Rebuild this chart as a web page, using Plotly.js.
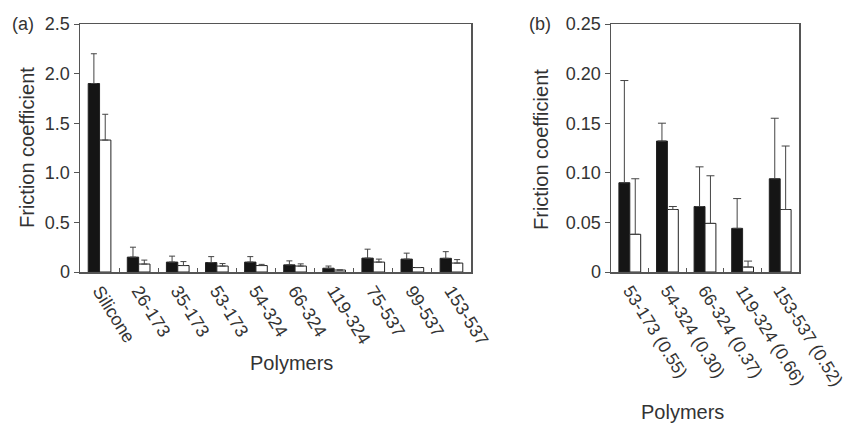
<!DOCTYPE html>
<html>
<head>
<meta charset="utf-8">
<script src="https://cdn.plot.ly/plotly-3.0.1.min.js"></script>
<style>html,body{margin:0;padding:0;background:#fff;}#chart{width:846px;height:424px;}</style>
</head>
<body>
<div id="chart"></div>
<script>
// Panel (a)
const catsA = ['Silicone','26-173','35-173','53-173','54-324','66-324','119-324','75-537','99-537','153-537'];
const darkA = [1.90, 0.15, 0.10, 0.095, 0.10, 0.072, 0.038, 0.14, 0.13, 0.138];
const darkErrA = [0.30, 0.10, 0.06, 0.06, 0.055, 0.04, 0.022, 0.09, 0.06, 0.067];
const lightA = [1.33, 0.08, 0.065, 0.06, 0.065, 0.06, 0.02, 0.10, 0.045, 0.09];
const lightErrA = [0.26, 0.04, 0.04, 0.025, 0.012, 0.022, 0.0, 0.03, 0.0, 0.035];
const yTicksA = [0, 0.5, 1.0, 1.5, 2.0, 2.5];
const yTextA = ['0', '0.5', '1.0', '1.5', '2.0', '2.5'];

// Panel (b)
const catsB = ['53-173 (0.55)','54-324 (0.30)','66-324 (0.37)','119-324 (0.66)','153-537 (0.52)'];
const darkB = [0.090, 0.132, 0.066, 0.044, 0.094];
const darkErrB = [0.103, 0.018, 0.040, 0.030, 0.061];
const lightB = [0.038, 0.063, 0.049, 0.005, 0.063];
const lightErrB = [0.056, 0.003, 0.048, 0.006, 0.064];
const yTicksB = [0, 0.05, 0.10, 0.15, 0.20, 0.25];
const yTextB = ['0', '0.05', '0.10', '0.15', '0.20', '0.25'];

const FONT = 'Liberation Sans, Arial, sans-serif';
const TXT = '#333';
const AX = '#555';
const W = 846, PLOT_TOP = 24, PLOT_BOT = 272;
const px = v => v / W;
const py = v => (PLOT_BOT - v) / (PLOT_BOT - PLOT_TOP);
const zeros = n => new Array(n).fill(0);

function bar(x, y, err, fill, xa, ya, capw) {
  return {
    type: 'bar', x: x, y: y, xaxis: xa, yaxis: ya,
    marker: {color: fill, line: {color: '#222', width: 1}},
    error_y: {type: 'data', symmetric: false, array: err, arrayminus: zeros(err.length),
              color: '#444', thickness: 1, width: capw},
    showlegend: false, hoverinfo: 'none'
  };
}

const data = [
  bar(catsA, darkA, darkErrA, '#151515', 'x', 'y', 3),
  bar(catsA, lightA, lightErrA, '#ffffff', 'x', 'y', 3),
  bar(catsB, darkB, darkErrB, '#151515', 'x2', 'y2', 4),
  bar(catsB, lightB, lightErrB, '#ffffff', 'x2', 'y2', 4)
];

const xCommon = {
  showline: true, mirror: true, linecolor: AX, linewidth: 1.5,
  ticks: 'inside', tickson: 'boundaries', ticklen: 4, tickcolor: AX, tickwidth: 1,
  tickangle: 58, tickfont: {family: FONT, size: 18, color: TXT},
  showgrid: false, zeroline: false, fixedrange: true
};
const yCommon = {
  showline: true, mirror: true, linecolor: AX, linewidth: 1.5,
  ticks: 'outside', ticklen: 5, tickcolor: AX, tickwidth: 1,
  tickfont: {family: FONT, size: 18, color: TXT},
  showgrid: false, zeroline: false, fixedrange: true, domain: [0, 1]
};

const layout = {
  width: 846, height: 424,
  margin: {l: 0, r: 0, t: PLOT_TOP, b: 424 - PLOT_BOT, pad: 0},
  paper_bgcolor: '#fff', plot_bgcolor: '#fff',
  barmode: 'group', bargap: 0.42, bargroupgap: 0,
  font: {family: FONT, color: TXT},
  xaxis: Object.assign({}, xCommon, {domain: [px(80), px(471)], anchor: 'y'}),
  yaxis: Object.assign({}, yCommon, {anchor: 'x', range: [0, 2.5], tickvals: yTicksA, ticktext: yTextA}),
  xaxis2: Object.assign({}, xCommon, {domain: [px(611), px(799)], anchor: 'y2',
    tickfont: {family: FONT, size: 17.5, color: TXT}}),
  yaxis2: Object.assign({}, yCommon, {anchor: 'x2', range: [0, 0.25], tickvals: yTicksB, ticktext: yTextB}),
  annotations: [
    {text: '(a)', xref: 'paper', yref: 'paper', x: px(23), y: py(24), showarrow: false,
     font: {family: FONT, size: 18, color: TXT}, xanchor: 'center', yanchor: 'middle'},
    {text: '(b)', xref: 'paper', yref: 'paper', x: px(540), y: py(24), showarrow: false,
     font: {family: FONT, size: 18, color: TXT}, xanchor: 'center', yanchor: 'middle'},
    {text: 'Friction coefficient', xref: 'paper', yref: 'paper', x: px(27), y: py(148), showarrow: false,
     textangle: -90, font: {family: FONT, size: 20, color: TXT}, xanchor: 'center', yanchor: 'middle'},
    {text: 'Friction coefficient', xref: 'paper', yref: 'paper', x: px(541), y: py(150), showarrow: false,
     textangle: -90, font: {family: FONT, size: 20, color: TXT}, xanchor: 'center', yanchor: 'middle'},
    {text: 'Polymers', xref: 'paper', yref: 'paper', x: px(291), y: py(363), showarrow: false,
     font: {family: FONT, size: 20, color: TXT}, xanchor: 'center', yanchor: 'middle'},
    {text: 'Polymers', xref: 'paper', yref: 'paper', x: px(682), y: py(412), showarrow: false,
     font: {family: FONT, size: 20, color: TXT}, xanchor: 'center', yanchor: 'middle'}
  ]
};

Plotly.newPlot('chart', data, layout, {displayModeBar: false, staticPlot: true});
</script>
</body>
</html>
